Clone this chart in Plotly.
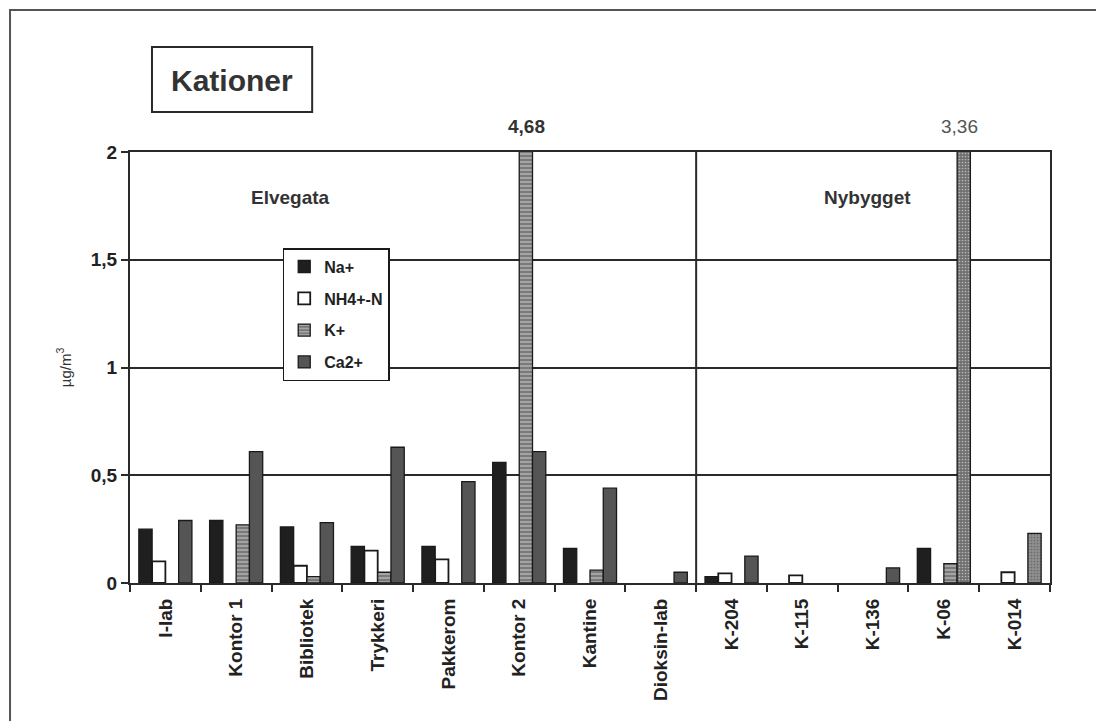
import plotly.graph_objects as go

# Measurement sites (Elvegata: first eight, Nybygget: last five)
categories = ["I-lab", "Kontor 1", "Bibliotek", "Trykkeri", "Pakkerom", "Kontor 2",
              "Kantine", "Dioksin-lab", "K-204", "K-115", "K-136", "K-06", "K-014"]

# Cation concentrations, µg/m3 (None = not detected)
na = [0.25, 0.29, 0.26, 0.17, 0.17, 0.56, 0.16, None, 0.03, None, None, 0.16, None]
nh4 = [0.10, None, 0.08, 0.15, 0.11, None, None, None, 0.045, 0.035, None, None, 0.05]
k = [None, 0.27, 0.03, 0.05, None, 4.68, 0.06, None, None, None, None, 0.09, None]
ca = [0.29, 0.61, 0.28, 0.63, 0.47, 0.61, 0.44, 0.05, 0.125, None, 0.07, 3.36, 0.23]

series_names = ["Na+", "NH4+-N", "K+", "Ca2+"]
y_ticks = [0, 0.5, 1, 1.5, 2]
y_max = 2

FONT = "Arial, Liberation Sans, sans-serif"
OUTLINE = dict(color="#1a1a1a", width=1.3)

fig = go.Figure()

fig.add_trace(go.Bar(
    x=categories, y=na, name=series_names[0], legendgroup="na",
    marker=dict(color="#1f1f1f", line=OUTLINE),
))
fig.add_trace(go.Bar(
    x=categories, y=nh4, name=series_names[1], legendgroup="nh4",
    marker=dict(color="#ffffff", line=dict(color="#1a1a1a", width=1.8)),
))
fig.add_trace(go.Bar(
    x=categories, y=k, name=series_names[2], legendgroup="k",
    marker=dict(color="#8c8c8c", line=OUTLINE,
                pattern=dict(shape="-", fgcolor="#f2f2f2", bgcolor="#7a7a7a",
                             size=4, solidity=0.35)),
))
ca_colors = ["#555555"] * len(categories)
ca_shapes = [""] * len(categories)
for name, col in (("K-06", "#6f6f6f"), ("K-014", "#8e8e8e")):
    i = categories.index(name)
    ca_colors[i] = col
    ca_shapes[i] = "."
fig.add_trace(go.Bar(
    x=categories, y=ca, name=series_names[3], legendgroup="ca",
    marker=dict(color=ca_colors, line=OUTLINE,
                pattern=dict(shape=ca_shapes, fgcolor="#b5b5b5", size=3, solidity=0.25)),
))

# Values that run off the top of the scale are printed above the frame
def fmt(v):
    return f"{v:.2f}".replace(".", ",")

overflow = []
for series, xshift, bold in ((k, 7, True), (ca, 16, False)):
    for cat, v in zip(categories, series):
        if v is not None and v > y_max:
            overflow.append((cat, v, xshift, bold))

annotations = []
for cat, v, xs, bold in overflow:
    annotations.append(dict(
        x=cat, y=y_max, xref="x", yref="y", yshift=26, xshift=xs,
        xanchor="center", yanchor="middle",
        text=f"<b>{fmt(v)}</b>" if bold else fmt(v), showarrow=False,
        font=dict(family=FONT, size=19, color="#333333" if bold else "#555555"),
    ))

annotations += [
    dict(x=0.174, y=0.895, xref="paper", yref="paper", text="<b>Elvegata</b>",
         xanchor="center", yanchor="middle",
         showarrow=False, font=dict(family=FONT, size=19, color="#333333")),
    dict(x=0.802, y=0.895, xref="paper", yref="paper", text="<b>Nybygget</b>",
         xanchor="center", yanchor="middle",
         showarrow=False, font=dict(family=FONT, size=19, color="#333333")),
    dict(x=0.111, y=1.167, xref="paper", yref="paper", text="<b>Kationer</b>",
         xanchor="center", yanchor="middle",
         showarrow=False, font=dict(family=FONT, size=30, color="#333333")),
]

shapes = [
    # divider between the two buildings
    dict(type="line", xref="x", yref="y", x0=7.5, x1=7.5, y0=0, y1=y_max,
         line=dict(color="#2a2a2a", width=2)),
    # title box
    dict(type="rect", xref="paper", yref="paper", x0=0.0239, x1=0.198,
         y0=1.093, y1=1.2436, line=dict(color="#2a2a2a", width=2)),
    # outer frame
    dict(type="rect", xref="paper", yref="paper", x0=-0.1304, x1=1.3,
         y0=-0.6, y1=1.3295, line=dict(color="#555555", width=2)),
]

fig.update_layout(
    width=1096, height=721,
    margin=dict(l=130, r=46, t=152, b=138),
    paper_bgcolor="white", plot_bgcolor="white",
    separators=",.",
    barmode="group", bargap=0.25, bargroupgap=0,
    font=dict(family=FONT, color="#333333"),
    showlegend=True,
    legend=dict(
        x=0.166, y=0.777, xanchor="left", yanchor="top",
        bgcolor="white", bordercolor="#1a1a1a", borderwidth=1.5,
        font=dict(family=FONT, size=16, color="#222222", weight="bold"),
        traceorder="grouped", tracegroupgap=8, itemwidth=30,
    ),
    annotations=annotations,
    shapes=shapes,
)

fig.update_xaxes(
    type="category", categoryorder="array", categoryarray=categories,
    tickangle=-90, tickson="boundaries", ticks="outside", ticklen=7,
    tickwidth=2, tickcolor="#2a2a2a", ticklabelstandoff=6,
    showline=True, linecolor="#2a2a2a", linewidth=2, mirror=True,
    showgrid=False,
    tickfont=dict(family=FONT, size=19, color="#222222", weight="bold"),
)
fig.update_yaxes(
    range=[0, y_max], tickvals=y_ticks, ticks="outside", ticklen=7,
    tickwidth=2, tickcolor="#2a2a2a",
    showline=True, linecolor="#2a2a2a", linewidth=2, mirror=True,
    showgrid=True, gridcolor="#2a2a2a", gridwidth=2,
    zeroline=False,
    tickfont=dict(family=FONT, size=19, color="#222222", weight="bold"),
    title=dict(text="µg/m<sup>3</sup>", standoff=16,
               font=dict(family=FONT, size=15, color="#333333")),
)

fig.write_html("out.html")
